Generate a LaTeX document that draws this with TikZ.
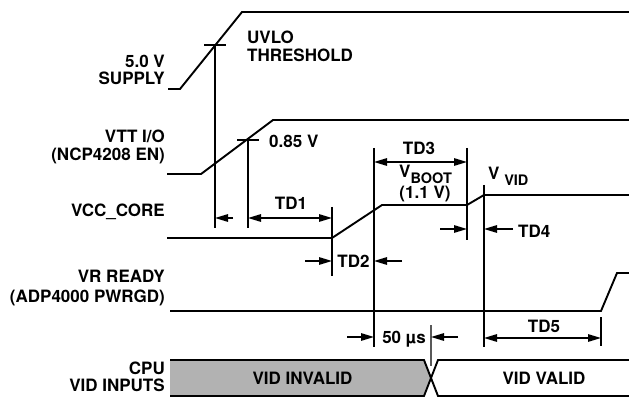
\documentclass[tikz,border=0pt]{standalone}
\usepackage{fontspec}
\setmainfont{TeX Gyre Heros}
\usetikzlibrary{arrows.meta}

\tikzset{
  sig/.style={line width=1.9pt},
  vline/.style={line width=1.5pt},
  dimarrow/.style={line width=1.4pt, {Triangle[length=13pt,width=7.5pt]}-{Triangle[length=13pt,width=7.5pt]}},
  ptr/.style={line width=1.4pt, -{Triangle[length=13pt,width=7.5pt]}},
  lbl/.style={font=\fontsize{17}{18}\selectfont\bfseries, inner sep=0pt},
}
\newcommand{\lowsub}[1]{\raisebox{-6pt}{\fontsize{14.5}{14.5}\selectfont #1}}

\begin{document}
\begin{tikzpicture}[x=1pt,y=-1pt]
    \useasboundingbox (0,0) rectangle (629,398);

    % signals
    \draw[sig] (168,89) -- (180,89) -- (242,12) -- (629,12);
    \draw[sig] (167,174) -- (201,174) -- (273,120) -- (629,120);
    \draw[sig] (167,238) -- (332,238) -- (382,205) -- (467,205) -- (484,195) -- (629,195);
    \draw[sig] (170,311) -- (601,311) -- (617,273) -- (629,273);

    % CPU VID bus
    \fill[gray!60] (170,360) -- (424,360) -- (431,378) -- (424,396) -- (170,396) -- cycle;
    \draw[sig] (170,360) -- (424,360) -- (438,396) -- (629,396);
    \draw[sig] (170,396) -- (424,396) -- (438,360) -- (629,360);

    % thresholds and markers
    \draw[vline] (204,45) -- (226,45);
    \draw[vline] (215,45) -- (215,228);
    \draw[vline] (237,140) -- (259,140);
    \draw[vline] (248,140) -- (248,228);
    \draw[vline] (332,207) -- (332,276);
    \draw[vline] (374,148) -- (374,347);
    \draw[vline] (467,148) -- (467,240);
    \draw[vline] (484,185) -- (484,347);
    \draw[vline] (601,317) -- (601,346);
    \draw[line width=1.1pt, black!65] (431,325) -- (431,366);

    % timing arrows
    \draw[ptr] (233,218) -- (215,218);
    \draw[dimarrow] (248,218) -- (332,218);
    \draw[ptr] (305,261) -- (332,261);
    \draw[ptr] (402,261) -- (374,261);
    \draw[dimarrow] (374,162) -- (467,162);
    \draw[ptr] (440,229) -- (467,229);
    \draw[ptr] (513,229) -- (484,229);
    \draw[ptr] (347,337) -- (374,337);
    \draw[ptr] (458,337) -- (431,337);
    \draw[dimarrow] (484,338) -- (601,338);

    % signal names
    \node[lbl, anchor=base east] (supA) at (165,68) {5.0 V};
    \node[lbl, anchor=base east] (supB) at (165,85) {SUPPLY};
    \node[lbl, anchor=base east] (vttA) at (165,143) {VTT I/O};
    \node[lbl, anchor=base east] (vttB) at (165,161) {(NCP4208 EN)};
    \node[lbl, anchor=base east] (vcc) at (165,217) {VCC\_CORE};
    \node[lbl, anchor=base east] (vrA) at (165,282) {VR READY};
    \node[lbl, anchor=base east] (vrB) at (165,302) {(ADP4000 PWRGD)};
    \node[lbl, anchor=base east] (cpuA) at (165,374) {CPU};
    \node[lbl, anchor=base east] (cpuB) at (165,391) {VID INPUTS};

    % annotations
    \node[lbl, anchor=base west] (uvloA) at (247,44) {UVLO};
    \node[lbl, anchor=base west] (uvloB) at (247,62) {THRESHOLD};
    \node[lbl, anchor=base west] (vtt85) at (269,148) {0.85 V};
    \node[lbl, anchor=base] (td1) at (291,210) {TD1};
    \node[lbl, anchor=base] (td2) at (353.5,267) {TD2};
    \node[lbl, anchor=base] (td3) at (419,155) {TD3};
    \node[lbl, anchor=base west] (vboot) at (399,178) {V\lowsub{BOOT}};
    \node[lbl, anchor=base] (vbootval) at (425,199) {(1.1 V)};
    \node[lbl, anchor=base west] (vvid) at (488,180) {V\ \lowsub{VID}};
    \node[lbl, anchor=base west] (td4) at (518,237) {TD4};
    \node[lbl, anchor=base] (td5) at (544,332) {TD5};
    \node[lbl, anchor=base] (fifty) at (404,343) {50 µs};
    \node[lbl, anchor=base] (invalid) at (302.5,384) {VID INVALID};
    \node[lbl, anchor=base] (valid) at (544,384) {VID VALID};
\end{tikzpicture}
\end{document}
